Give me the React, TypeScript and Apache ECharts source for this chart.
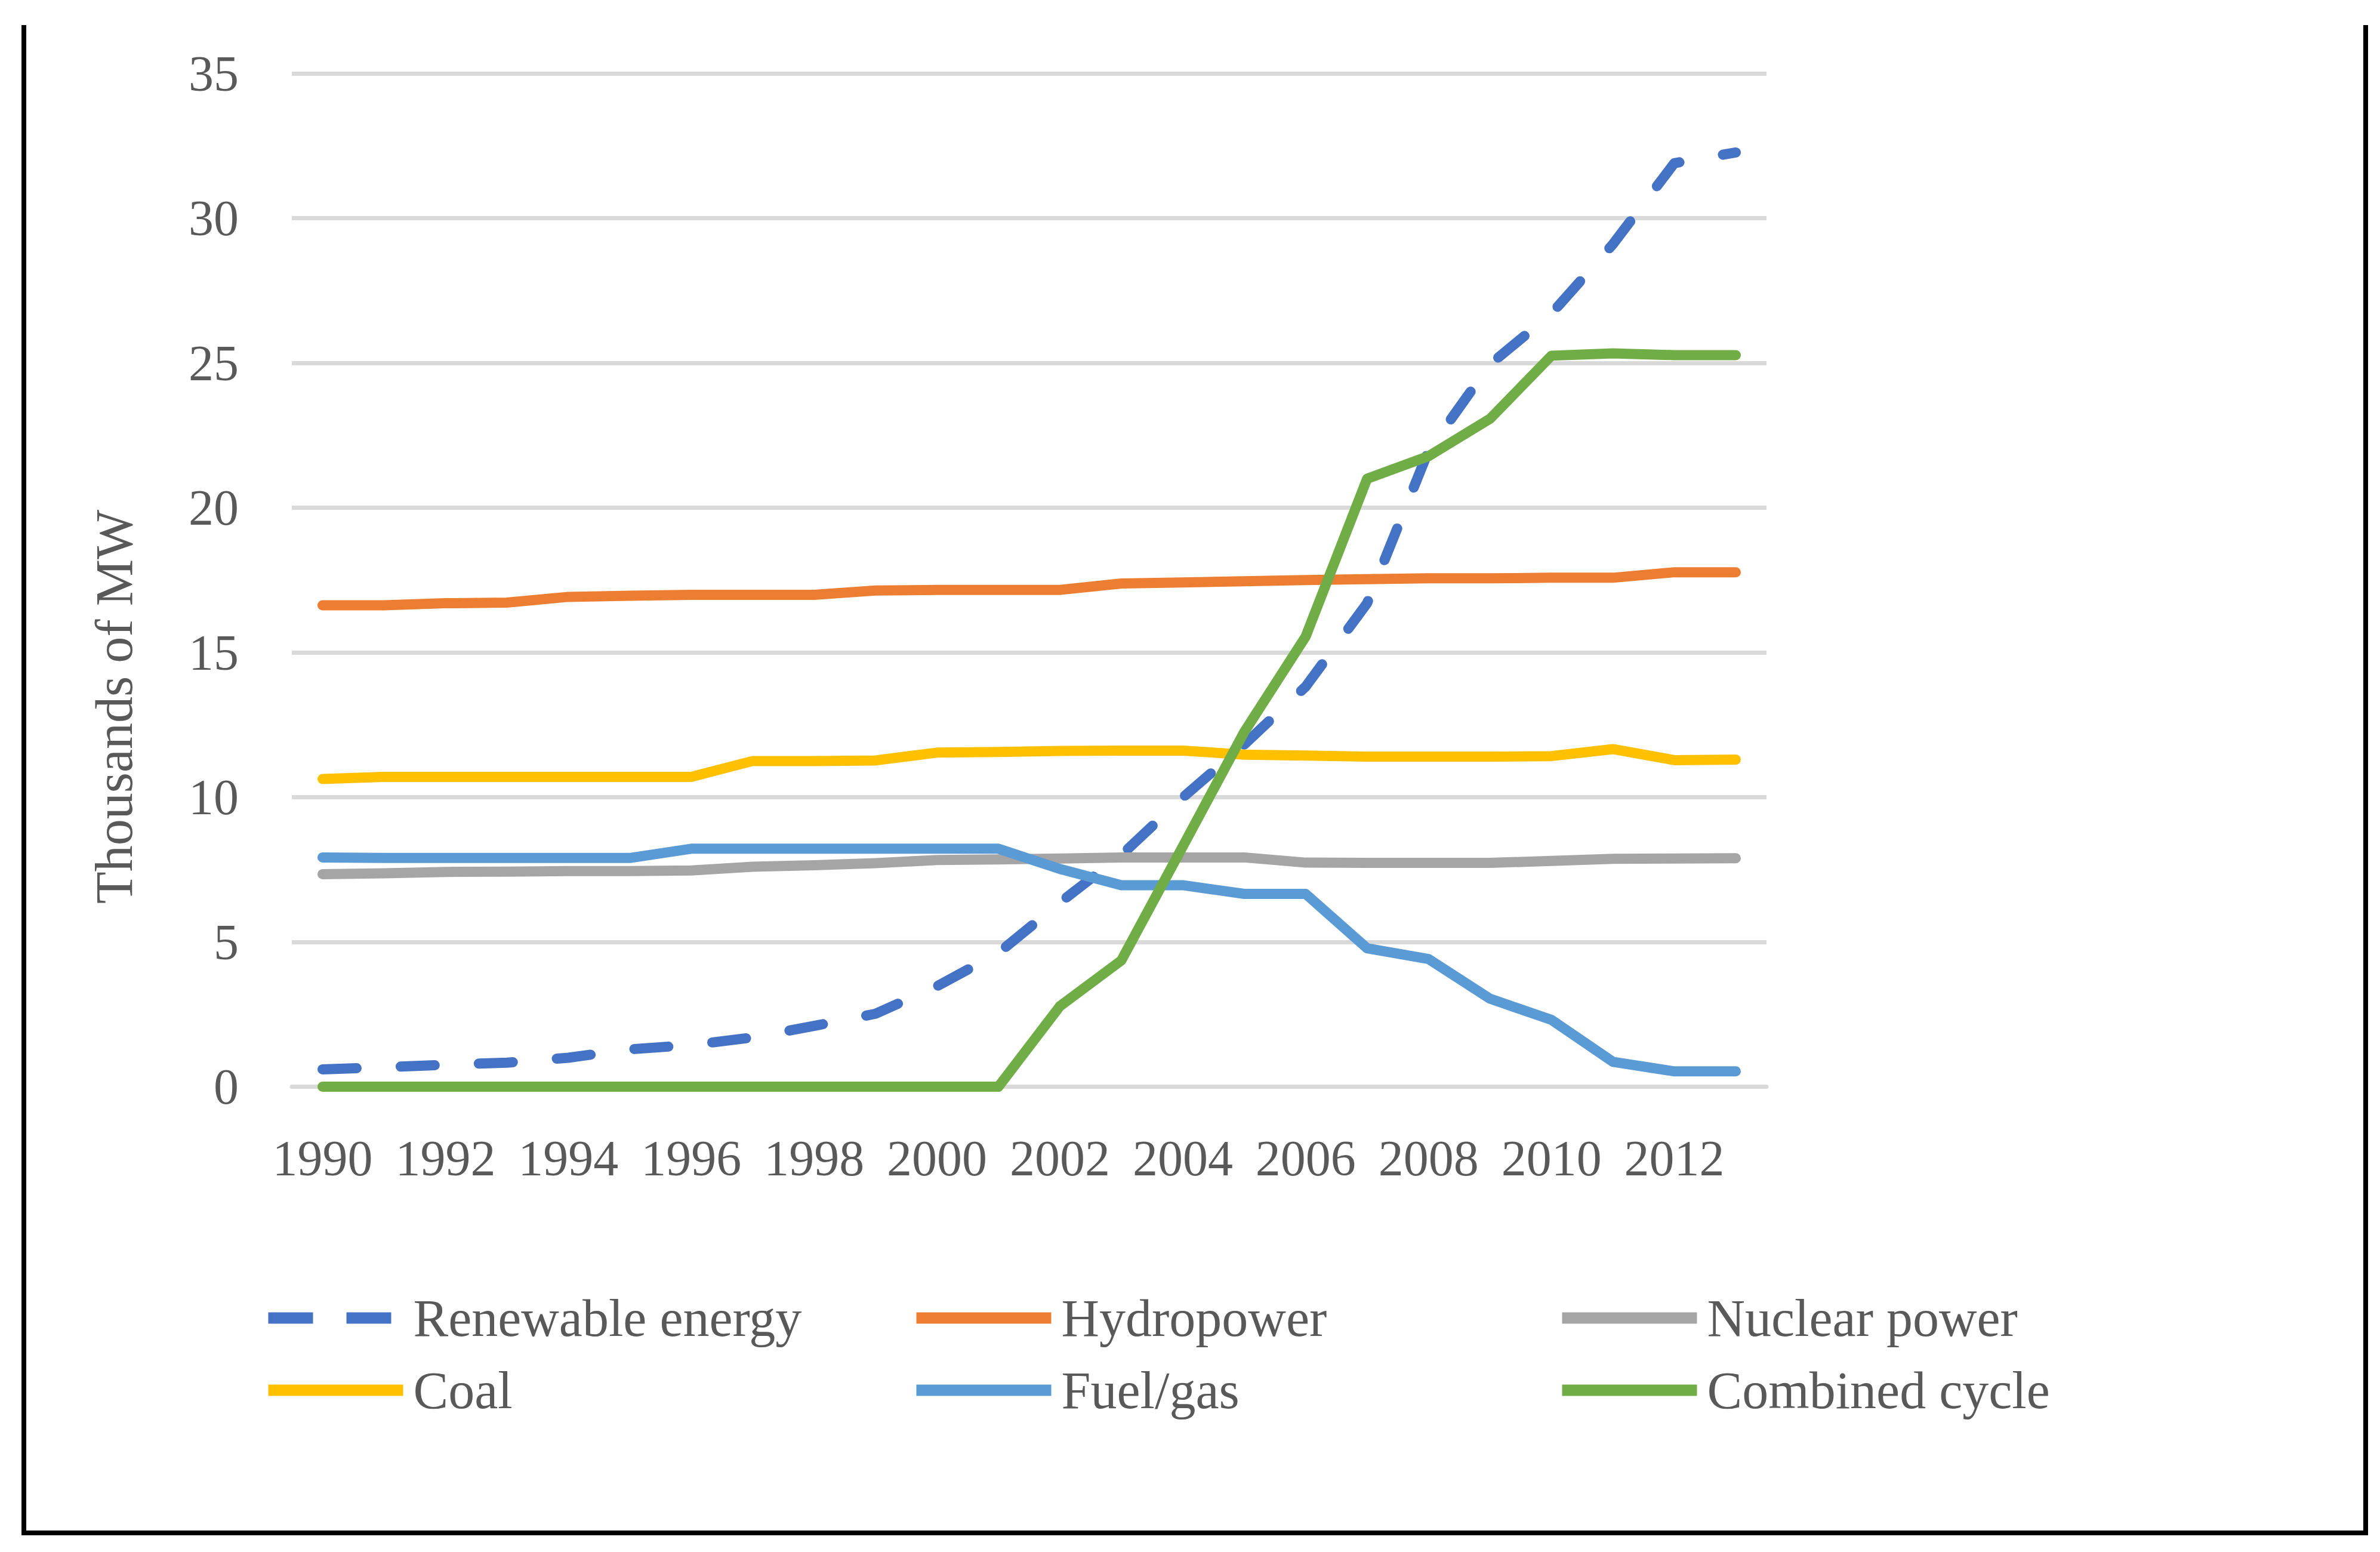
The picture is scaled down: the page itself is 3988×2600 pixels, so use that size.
import React, { useEffect, useRef } from "react";
import * as echarts from "echarts";

const years = ["1990","1991","1992","1993","1994","1995","1996","1997","1998","1999","2000","2001","2002","2003","2004","2005","2006","2007","2008","2009","2010","2011","2012","2013"];
const renewable = [0.6, 0.67, 0.76, 0.83, 1.0, 1.29, 1.44, 1.7, 2.1, 2.52, 3.47, 4.62, 6.36, 8.0, 9.99, 11.82, 13.82, 16.7, 21.97, 24.95, 26.7, 29.1, 31.9, 32.27];
const hydro = [16.63, 16.63, 16.7, 16.72, 16.92, 16.96, 16.99, 16.99, 16.99, 17.14, 17.16, 17.16, 17.16, 17.38, 17.42, 17.46, 17.5, 17.53, 17.56, 17.56, 17.58, 17.58, 17.77, 17.77];
const nuclear = [7.34, 7.37, 7.42, 7.43, 7.45, 7.45, 7.47, 7.6, 7.65, 7.72, 7.83, 7.85, 7.88, 7.92, 7.92, 7.92, 7.74, 7.73, 7.73, 7.73, 7.8, 7.87, 7.88, 7.89];
const coal = [10.63, 10.7, 10.7, 10.7, 10.7, 10.7, 10.7, 11.25, 11.25, 11.27, 11.54, 11.56, 11.6, 11.61, 11.61, 11.47, 11.44, 11.4, 11.4, 11.4, 11.42, 11.66, 11.28, 11.3];
const fuelGas = [7.92, 7.9, 7.9, 7.9, 7.9, 7.9, 8.22, 8.22, 8.22, 8.22, 8.22, 8.22, 7.52, 6.96, 6.96, 6.66, 6.66, 4.78, 4.41, 3.04, 2.31, 0.86, 0.53, 0.53];
const combined = [0, 0, 0, 0, 0, 0, 0, 0, 0, 0, 0, 0, 2.78, 4.36, 8.3, 12.25, 15.55, 21.0, 21.78, 23.07, 25.25, 25.33, 25.27, 25.27];

const seriesNames = ["Renewable energy", "Hydropower", "Nuclear power", "Coal", "Fuel/gas", "Combined cycle"];
const seriesColors = ["#4472C4", "#ED7D31", "#A5A5A5", "#FFC000", "#5B9BD5", "#70AD47"];
const seriesData = [renewable, hydro, nuclear, coal, fuelGas, combined];
const yAxisTitle = "Thousands of MW";

const FONT = "'Liberation Serif', 'DejaVu Serif', serif";
const TEXT = "#595959";

export default function App() {
  const ref = useRef<HTMLDivElement>(null);
  useEffect(() => {
    document.body.style.margin = "0";
    if (!ref.current) return;
    const chart = echarts.init(ref.current, null, { renderer: "svg" });
    const legendItem = (name: string) =>
      name === "Renewable energy"
        ? { name, lineStyle: { type: [75, 56], cap: "butt", width: 19 } }
        : { name };
    const legendBase = (left: number, data: string[]) => ({
      orient: "vertical",
      left,
      top: 2164,
      padding: 0,
      itemGap: 33,
      itemWidth: 226,
      itemHeight: 19,
      selectedMode: false,
      data: data.map(legendItem),
      itemStyle: { opacity: 0 },
      lineStyle: { width: 19, cap: "butt", type: "solid" },
      textStyle: {
        fontFamily: FONT,
        fontSize: 88,
        color: TEXT,
        lineHeight: 88,
        padding: [0, 0, 0, 12],
      },
    });
    chart.setOption({
      animation: false,
      backgroundColor: "#ffffff",
      grid: { left: 489, right: 1028, top: 123, bottom: 779.5, containLabel: false },
      xAxis: {
        type: "category",
        data: years,
        boundaryGap: true,
        axisLine: { show: true, lineStyle: { color: "#D9D9D9", width: 7 } },
        axisTick: { show: false },
        axisLabel: {
          interval: 1,
          margin: 78,
          fontFamily: FONT,
          fontSize: 84,
          color: TEXT,
        },
        splitLine: { show: false },
      },
      yAxis: {
        type: "value",
        min: 0,
        max: 35,
        interval: 5,
        axisLine: { show: false },
        axisTick: { show: false },
        axisLabel: { margin: 89, fontFamily: FONT, fontSize: 84, color: TEXT },
        splitLine: { show: true, lineStyle: { color: "#D9D9D9", width: 7 } },
      },
      legend: [
        legendBase(440, ["Renewable energy", "Coal"]),
        legendBase(1526, ["Hydropower", "Fuel/gas"]),
        legendBase(2608, ["Nuclear power", "Combined cycle"]),
      ],
      series: seriesNames.map((name, i) => ({
        name,
        type: "line",
        data: seriesData[i],
        symbol: "none",
        color: seriesColors[i],
        lineStyle: {
          color: seriesColors[i],
          width: 17,
          cap: "round",
          join: "round",
          type: i === 0 ? [57, 74] : "solid",
        },
        z: 2 + i,
      })),
      graphic: [
        {
          type: "polyline",
          shape: { points: [[40, 42], [40, 2568], [3964, 2568], [3964, 42]] },
          style: { stroke: "#000000", lineWidth: 8, fill: null },
          silent: true,
        },
        {
          type: "text",
          x: 191,
          y: 1184,
          rotation: Math.PI / 2,
          style: {
            text: yAxisTitle,
            fontFamily: FONT,
            fontSize: 88,
            fill: TEXT,
            align: "center",
            verticalAlign: "middle",
          },
          silent: true,
        },
      ],
    });
    return () => chart.dispose();
  }, []);
  return <div ref={ref} style={{ width: 3988, height: 2600 }} />;
}
